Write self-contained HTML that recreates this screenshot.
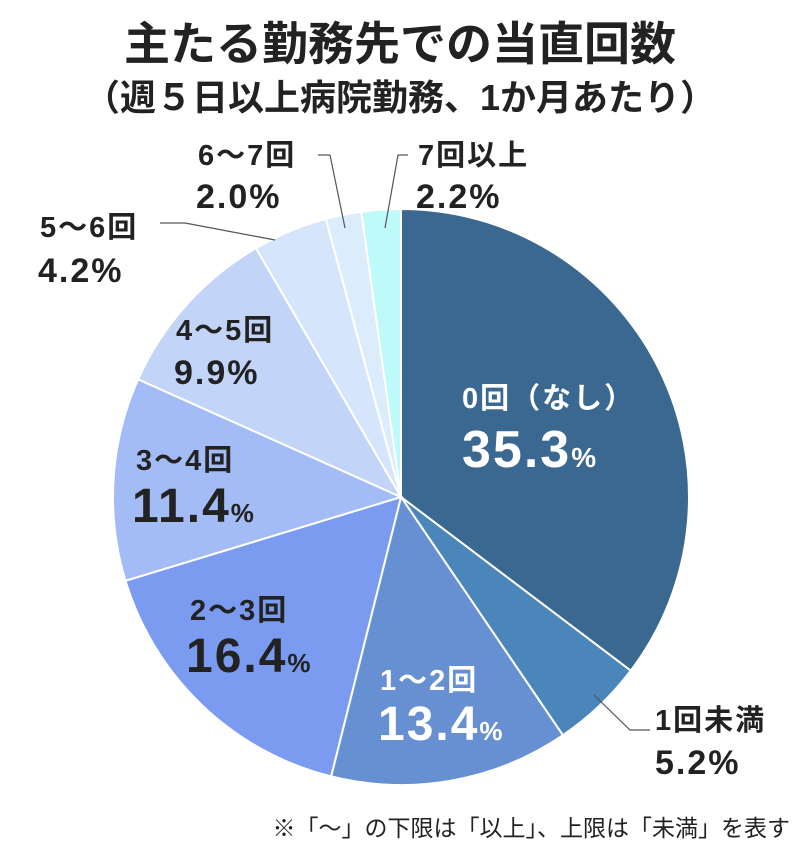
<!DOCTYPE html>
<html><head><meta charset="utf-8"><style>
body{margin:0;background:#fff;width:800px;height:848px;overflow:hidden}
svg text{font-family:"Liberation Sans","Noto Sans CJK JP",sans-serif;font-weight:bold}
</style></head><body>
<svg id="s" width="800" height="848" xmlns="http://www.w3.org/2000/svg">
<text x="400" y="60" font-size="46" text-anchor="middle" fill="#222">主たる勤務先での当直回数</text>
<text x="400" y="110" font-size="36" text-anchor="middle" fill="#222">（週５日以上病院勤務、1か月あたり）</text>
<g id="pie"></g>
<g stroke="#555" stroke-width="1.2" fill="none">
<polyline points="594,695 630,730 650,730"/>
<polyline points="160,223 185,223 275,240"/>
<polyline points="318,155 330,155 345,228"/>
<polyline points="408,155 398,155 385,228"/>
</g>
<g fill="#fff" letter-spacing="2">
<text x="462" y="408" font-size="29">0回（なし）</text>
<text x="462" y="467" font-size="52">35.3<tspan font-size="28">%</tspan></text>
<text x="380" y="690" font-size="29">1～2回</text>
<text x="378" y="740" font-size="48">13.4<tspan font-size="26">%</tspan></text>
</g>
<g fill="#222" letter-spacing="2">
<text x="190" y="620" font-size="29">2～3回</text>
<text x="186" y="672" font-size="48">16.4<tspan font-size="26">%</tspan></text>
<text x="136" y="470" font-size="29">3～4回</text>
<text x="132" y="522" font-size="48">11.4<tspan font-size="26">%</tspan></text>
<text x="176" y="340" font-size="29">4～5回</text>
<text x="174" y="384" font-size="34">9.9%</text>
<text x="40" y="237" font-size="29">5～6回</text>
<text x="38" y="282" font-size="34">4.2%</text>
<text x="198" y="165" font-size="29">6～7回</text>
<text x="196" y="208" font-size="34">2.0%</text>
<text x="418" y="165" font-size="29">7回以上</text>
<text x="416" y="208" font-size="34">2.2%</text>
<text x="655" y="730" font-size="29">1回未満</text>
<text x="655" y="774" font-size="34">5.2%</text>
</g>
<text x="790" y="836" font-size="23" text-anchor="end" fill="#222" style="font-weight:normal">※「～」の下限は「以上」、上限は「未満」を表す</text>
</svg>
<script>
var d=[[35.3,"#3b6891"],[5.2,"#4a86b9"],[13.4,"#6790d2"],[16.4,"#7a9bef"],[11.4,"#a3bcf6"],[9.9,"#c3d4f9"],[4.2,"#d5e6fc"],[2.0,"#dbecfc"],[2.2,"#bffafb"]];
var cx=401,cy=497,r=288,a=0,h="",tot=100;
d.forEach(function(s){var a2=a+s[0]/tot*2*Math.PI;
var x1=cx+r*Math.sin(a),y1=cy-r*Math.cos(a),x2=cx+r*Math.sin(a2),y2=cy-r*Math.cos(a2);
h+='<path d="M'+cx+','+cy+'L'+x1+','+y1+'A'+r+','+r+' 0 '+(a2-a>Math.PI?1:0)+' 1 '+x2+','+y2+'Z" fill="'+s[1]+'" stroke="#fff" stroke-width="2"/>';a=a2;});
document.getElementById("pie").innerHTML=h;
</script>
</body></html>
